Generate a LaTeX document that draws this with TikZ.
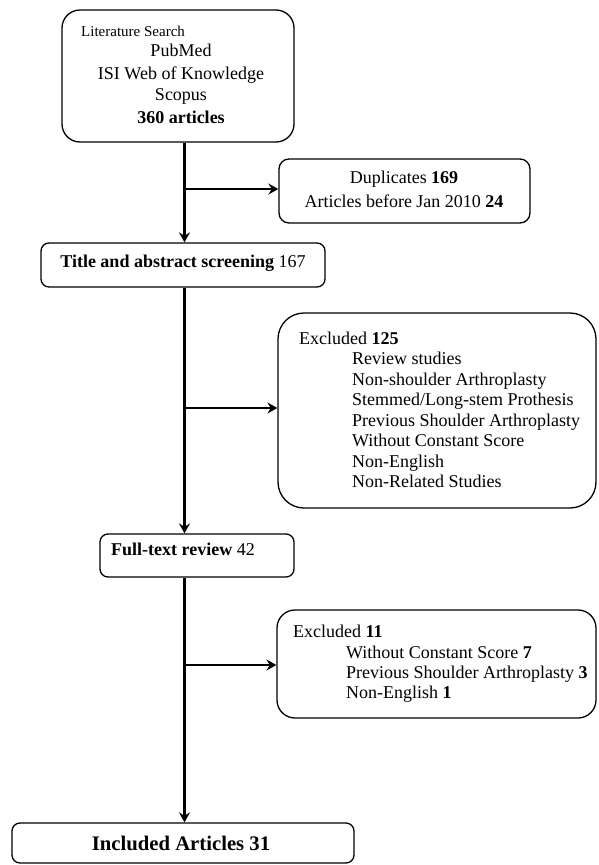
\documentclass[tikz,border=0pt]{standalone}
\usepackage{fontspec}
\setmainfont{Liberation Serif}
\usetikzlibrary{arrows.meta}
\newcommand\fsz[1]{\fontsize{#1pt}{#1pt}\selectfont}
\begin{document}
\begin{tikzpicture}[x=1pt,y=-1pt,
  box/.style={draw, line width=1.3pt, rounded corners=#1, inner sep=0pt},
  box/.default=8pt,
  txt/.style={inner sep=0pt, font=\fsz{18}},
  arr/.style={line width=2.3pt, -{Stealth[length=10pt,width=11pt,inset=3.5pt]}}]
\useasboundingbox (0,0) rectangle (598,865);

% boxes
\node[box=18pt, minimum width=232pt, minimum height=132pt] (lit) at (178,76) {};
\node[box=10pt, minimum width=251pt, minimum height=64pt] (dup) at (404.5,191) {};
\node[box=8pt, minimum width=284pt, minimum height=44pt] (tas) at (183,265) {};
\node[box=26pt, minimum width=318pt, minimum height=195pt] (exa) at (437,410.5) {};
\node[box=8pt, minimum width=194pt, minimum height=43pt] (ftr) at (197,555.5) {};
\node[box=18pt, minimum width=319pt, minimum height=108pt] (exb) at (436.5,664) {};
\node[box=8pt, minimum width=342pt, minimum height=40pt] (inc) at (183,843) {};

% spine and junctions
\coordinate (sx) at (184.5,0);
\coordinate (ja) at (184.5,189);
\coordinate (jb) at (184.5,408);
\coordinate (jc) at (184.5,665);

\draw[arr] (lit.south -| sx) -- (tas.north -| sx);
\draw[arr] (ja) -- (ja -| dup.west);
\draw[arr] (tas.south -| sx) -- (ftr.north -| sx);
\draw[arr] (jb) -- (jb -| exa.west);
\draw[arr] (ftr.south -| sx) -- (inc.north -| sx);
\draw[arr] (jc) -- (jc -| exb.west);

% box 1 text
\node[txt, font=\fsz{15}, anchor=base west] (la) at (81,36) {Literature Search};
\node[txt, anchor=base] (lb) at (181,56) {PubMed};
\node[txt, anchor=base] (lc) at (181,79) {ISI Web of Knowledge};
\node[txt, anchor=base] (ld) at (181,100) {Scopus};
\node[txt, anchor=base] (le) at (181,123) {\textbf{360 articles}};

% box 2 text
\node[txt, anchor=base] (da) at (404,183) {Duplicates \textbf{169}};
\node[txt, anchor=base] (db) at (404,207) {Articles before Jan 2010 \textbf{24}};

% box 3 text
\node[txt, anchor=base] (ta) at (183,267) {\textbf{Title and abstract screening} 167};

% box 4 text
\node[txt, anchor=base west] (ea0) at (299,344) {Excluded \textbf{125}};
\node[txt, anchor=base west] (ea1) at (352,364.5) {Review studies};
\node[txt, anchor=base west] (ea2) at (352,385) {Non-shoulder Arthroplasty};
\node[txt, anchor=base west] (ea3) at (352,405.5) {Stemmed/Long-stem Prothesis};
\node[txt, anchor=base west] (ea4) at (352,426) {Previous Shoulder Arthroplasty};
\node[txt, anchor=base west] (ea5) at (352,446.5) {Without Constant Score};
\node[txt, anchor=base west] (ea6) at (352,467) {Non-English};
\node[txt, anchor=base west] (ea7) at (352,487.5) {Non-Related Studies};

% box 5 text
\node[txt, anchor=base west] (fa) at (111,555) {\textbf{Full-text review} 42};

% box 6 text
\node[txt, anchor=base west] (eb0) at (293,637) {Excluded \textbf{11}};
\node[txt, anchor=base west] (eb1) at (346,658) {Without Constant Score \textbf{7}};
\node[txt, anchor=base west] (eb2) at (346,678) {Previous Shoulder Arthroplasty \textbf{3}};
\node[txt, anchor=base west] (eb3) at (346,698) {Non-English \textbf{1}};

% box 7 text
\node[txt, font=\fsz{20.7}, anchor=base] (ia) at (181,850) {\textbf{Included Articles 31}};
\end{tikzpicture}
\end{document}
